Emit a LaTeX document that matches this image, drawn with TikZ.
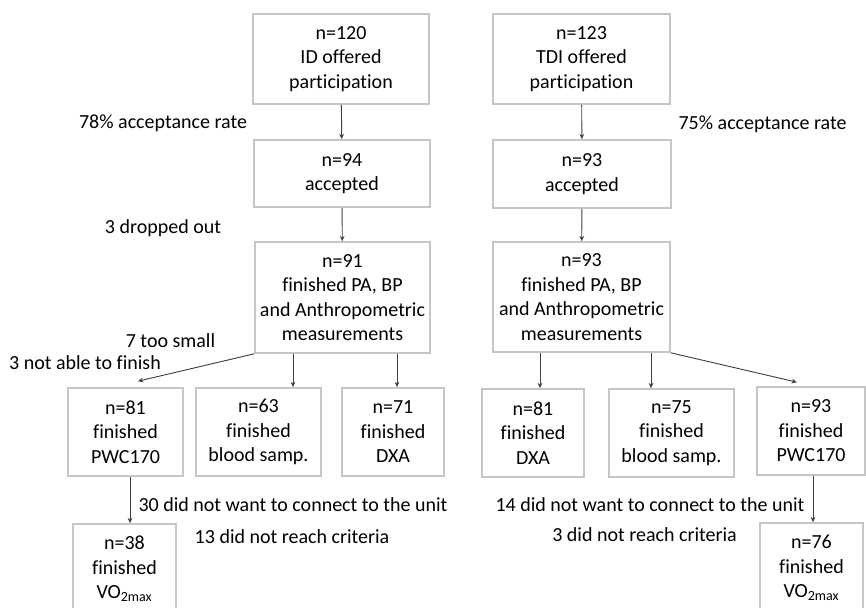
\documentclass[tikz,border=0pt]{standalone}
\usepackage{fontspec}
\setmainfont[Ligatures=NoCommon]{Carlito}
\usepackage{tikz}
\usetikzlibrary{positioning,calc,arrows.meta}
\tikzstyle{box} = [draw=gray!45, line width=1.2pt, align=center, inner sep=0pt]
\tikzstyle{note} = [draw=none, align=center, inner sep=0pt]
\tikzstyle{arrow} = [draw=black!75, line width=0.7pt, -{Stealth[length=4pt,width=3.5pt]}]

\begin{document}
\begin{tikzpicture}[x=0.75pt,y=-0.75pt,font=\fontsize{15}{18.4}\selectfont]
    \clip (0,0) rectangle (866,607);

    % ID column
    \node[box,minimum width=132pt,minimum height=67.5pt] (idoffer) at (341,59) {n=120\\ID offered\\participation};
    \node[box,minimum width=132pt,minimum height=50.25pt] (idacc) at (342,173.5) {n=94\\accepted};
    \node[box,minimum width=131.25pt,minimum height=83.25pt] (idpa) at (342.5,297.5) {n=91\\finished PA, BP\\and Anthropometric\\measurements};
    \node[box,minimum width=86.25pt,minimum height=66pt] (idpwc) at (125.5,432) {n=81\\finished\\PWC170};
    \node[box,minimum width=93.75pt,minimum height=66pt] (idblood) at (258.5,432) {n=63\\finished\\blood samp.};
    \node[box,minimum width=76.5pt,minimum height=66pt] (iddxa) at (393,432) {n=71\\finished\\DXA};
    \node[box,minimum width=77.25pt,minimum height=67.5pt] (idvo) at (124.5,569) {n=38\\finished\\VO\textsubscript{2max}};

    % TDI column
    \node[box,minimum width=132.75pt,minimum height=67.5pt] (tdioffer) at (581.5,59) {n=123\\TDI offered\\participation};
    \node[box,minimum width=133.5pt,minimum height=51pt] (tdiacc) at (582,174) {n=93\\accepted};
    \node[box,minimum width=132.75pt,minimum height=82.5pt] (tdipa) at (581.5,297) {n=93\\finished PA, BP\\and Anthropometric\\measurements};
    \node[box,minimum width=76.5pt,minimum height=66pt] (tdidxa) at (533,433) {n=81\\finished\\DXA};
    \node[box,minimum width=93.75pt,minimum height=66pt] (tdiblood) at (671.5,433) {n=75\\finished\\blood samp.};
    \node[box,minimum width=81pt,minimum height=66pt] (tdipwc) at (811,431) {n=93\\finished\\PWC170};
    \node[box,minimum width=77.25pt,minimum height=67.5pt] (tdivo) at (811.5,568) {n=76\\finished\\VO\textsubscript{2max}};

    % labels
    \node[note] (idrate) at (163,123) {78\% acceptance rate};
    \node[note] (iddrop) at (163,228) {3 dropped out};
    \node[note] (tdirate) at (762.5,124) {75\% acceptance rate};
    \node[note] (idsmall) at (170.5,341) {7 too small};
    \node[note] (idnotfin) at (85,363) {3 not able to finish};
    \node[note] (idunit) at (293,505) {30 did not want to connect to the unit};
    \node[note] (idcrit) at (292,537) {13 did not reach criteria};
    \node[note] (tdiunit) at (650,505) {14 did not want to connect to the unit};
    \node[note] (tdicrit) at (644.5,535) {3 did not reach criteria};

    \coordinate (xa) at (293,0);
    \coordinate (xb) at (397,0);
    \coordinate (xc) at (540,0);
    \coordinate (xd) at (651,0);
    \coordinate (xe) at (130,0);
    \coordinate (xf) at (813,0);

    \draw[arrow] (idoffer) -- (idacc);
    \draw[arrow] (idacc) -- (idpa);
    \draw[arrow] (tdioffer) -- (tdiacc);
    \draw[arrow] (tdiacc) -- (tdipa);
    \draw[arrow] (idpa.south west) -- ($(idpwc.north)+(12.5,-6)$);
    \draw[arrow] (idpa.south -| xa) -- (idblood.north -| xa);
    \draw[arrow] (idpa.south -| xb) -- (iddxa.north -| xb);
    \draw[arrow] (idpwc.south -| xe) -- (idvo.north -| xe);
    \draw[arrow] (tdipa.south -| xc) -- (tdidxa.north -| xc);
    \draw[arrow] (tdipa.south -| xd) -- (tdiblood.north -| xd);
    \draw[arrow] (tdipa.south east) -- ($(tdipwc.north)+(-14,-4)$);
    \draw[arrow] (tdipwc.south -| xf) -- (tdivo.north -| xf);

\end{tikzpicture}
\end{document}
